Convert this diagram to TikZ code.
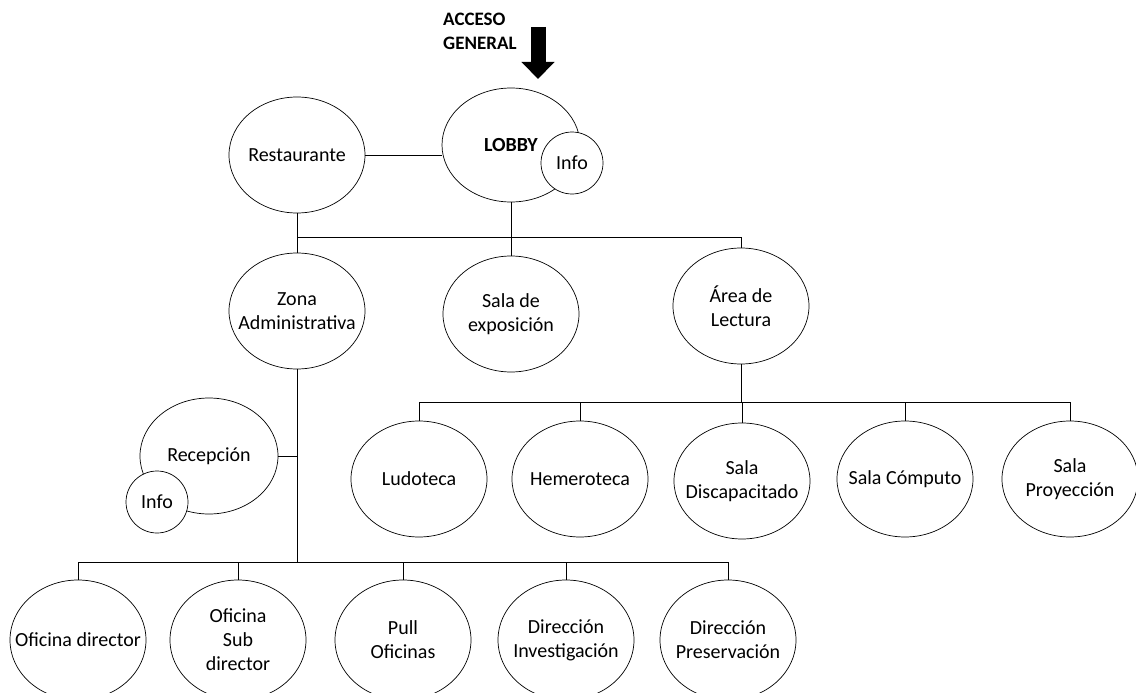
\documentclass[tikz,border=0pt]{standalone}
\usepackage{fontspec}
\setmainfont{Carlito}
\usetikzlibrary{shapes.geometric,arrows.meta}
\tikzset{
  sala/.style={draw, ellipse, line width=0.7pt, inner sep=0pt,
    minimum width=136pt, minimum height=116pt,
    label={[align=center, font=\fontsize{20}{24}\selectfont]center:#1}},
  info/.style={draw, circle, fill=white, line width=0.7pt, inner sep=0pt,
    minimum size=62pt, font=\fontsize{20}{24}\selectfont},
  enlace/.style={line width=0.7pt}
}
\begin{document}
\begin{tikzpicture}[x=1pt,y=-1pt]
\useasboundingbox (0,0) rectangle (1136,693);
\clip (0,0) rectangle (1136,693);
% acceso
\node[font=\bfseries\fontsize{19}{24}\selectfont, align=left, anchor=west, inner sep=0pt] (acceso) at (443,31) {ACCESO\\GENERAL};
\coordinate (accA) at (538,27);
\coordinate (accB) at (538,79);
\draw[line width=15pt, -{Triangle[width=32pt,length=17pt]}] (accA) -- (accB);
% nivel 1
\node[sala=Restaurante] (rest) at (297,155) {};
\node[sala={\textbf{LOBBY}}, minimum width=138pt, minimum height=114pt] (lobby) at (511,145) {};
\node[info] (infoL) at (572,163) {Info};
% nivel 2
\node[sala={Zona\\Administrativa}] (zona) at (297,311) {};
\node[sala={Sala de\\exposición}] (expo) at (511,314) {};
\node[sala={Área de\\Lectura}] (area) at (741,306) {};
% area de lectura
\node[sala=Ludoteca] (ludo) at (419,479) {};
\node[sala=Hemeroteca] (heme) at (580,479) {};
\node[sala={Sala\\Discapacitado}] (disc) at (742,481) {};
\node[sala={Sala Cómputo}] (comp) at (905,479) {};
\node[sala={Sala\\Proyección}] (proy) at (1070,479) {};
% zona administrativa
\node[sala=Recepción, minimum width=138pt] (recep) at (209,456) {};
\node[info] (infoR) at (157,502) {Info};
\node[sala={Oficina director}, minimum height=120pt] (ofdir) at (78,640) {};
\node[sala={Oficina\\Sub\\director}, minimum height=120pt] (ofsub) at (238,640) {};
\node[sala={Pull\\Oficinas}, minimum height=120pt] (pull) at (403,640) {};
\node[sala={Dirección\\Investigación}, minimum height=120pt] (inves) at (566,640) {};
\node[sala={Dirección\\Preservación}, minimum height=120pt] (prese) at (728,640) {};
% enlaces
\coordinate (busA) at (510,237);
\coordinate (busB) at (741,402);
\coordinate (busC) at (297,562);
\draw[enlace] (rest.east) -- (rest.east -| lobby.west);
\draw[enlace] (lobby) -- (lobby |- busA);
\draw[enlace] (rest) |- (area |- busA) -- (area);
\draw[enlace] (zona) -- (zona |- busA);
\draw[enlace] (expo) -- (expo |- busA);
\draw[enlace] (area) -- (area |- busB);
\draw[enlace] (ludo) |- (proy |- busB) -- (proy);
\foreach \n in {heme,disc,comp}
  \draw[enlace] (\n) -- (\n |- busB);
\draw[enlace] (zona) -- (zona |- busC);
\draw[enlace] (recep) -- (recep -| zona);
\draw[enlace] (ofdir) |- (prese |- busC) -- (prese);
\foreach \n in {ofsub,pull,inves}
  \draw[enlace] (\n) -- (\n |- busC);
\end{tikzpicture}
\end{document}
